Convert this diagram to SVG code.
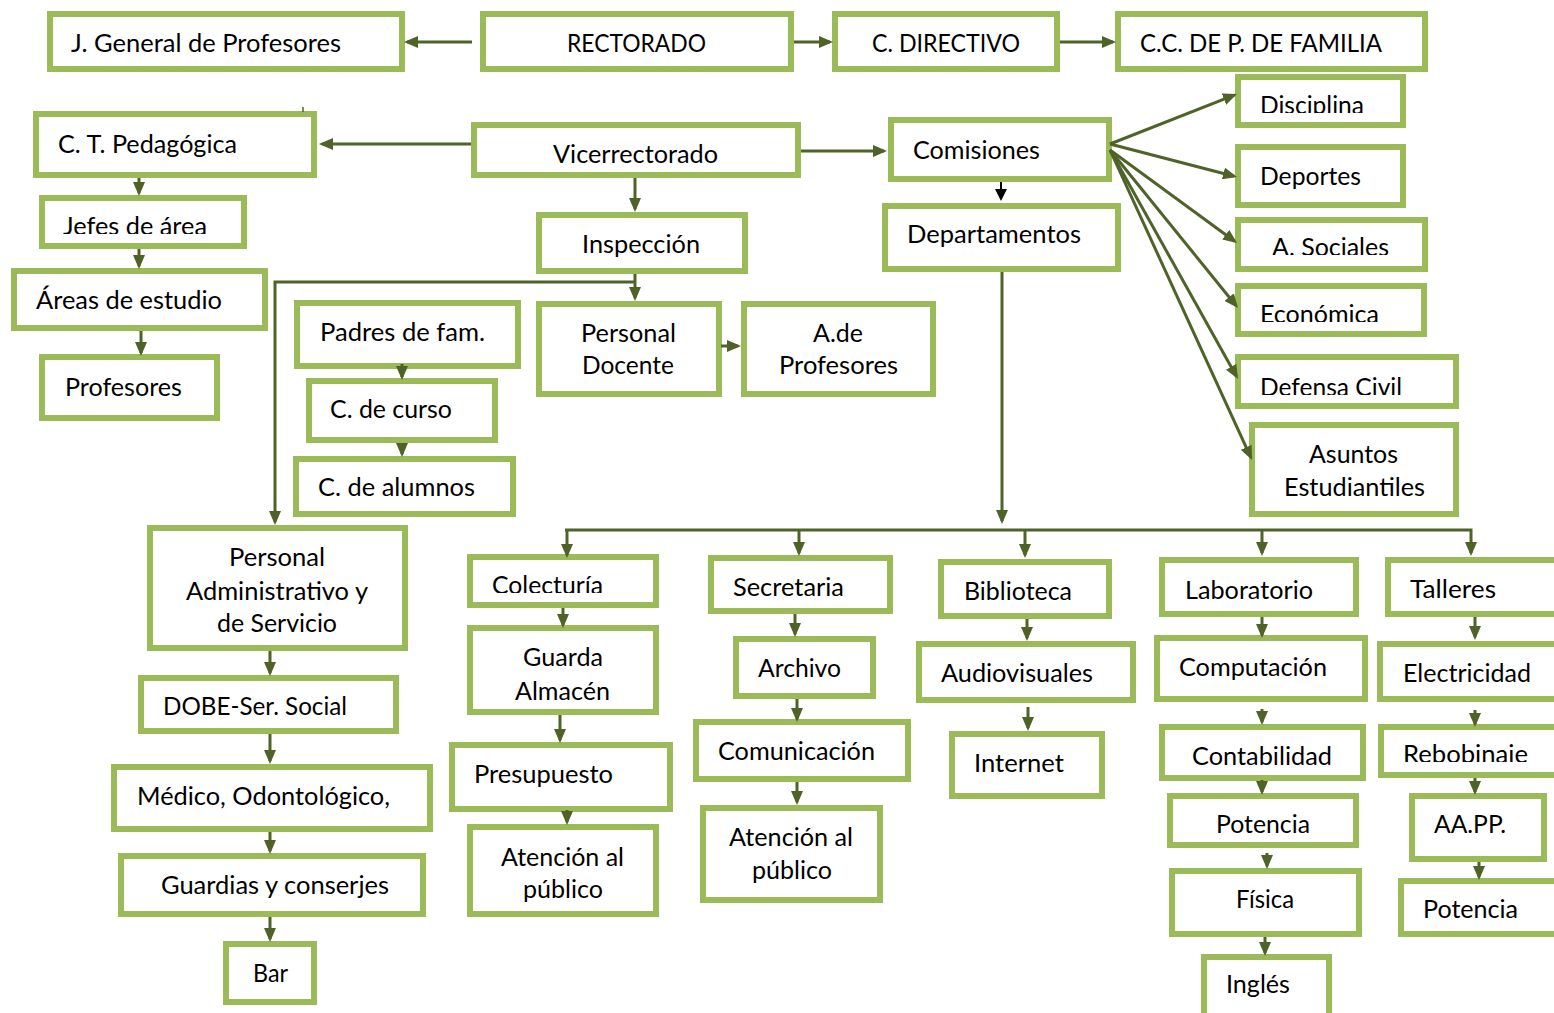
<svg xmlns="http://www.w3.org/2000/svg" width="1554" height="1013" viewBox="0 0 1554 1013">
<style>
rect.b{fill:#fff;stroke:#9BBB59;stroke-width:6}
text{font-family:Lato,"Open Sans","Liberation Sans",sans-serif;font-size:25px;fill:#000}
.c path{fill:none;stroke:#4F6228;stroke-width:3;marker-end:url(#ah)}
.c path.k{stroke:#000;stroke-width:2;marker-end:url(#ak)}
</style>
<defs>
<marker id="ah" viewBox="0 0 14 12" refX="11" refY="6" markerWidth="14" markerHeight="12" markerUnits="userSpaceOnUse" orient="auto"><path d="M0,0 L14,6 L0,12 z" fill="#4F6228"/></marker>
<marker id="ak" viewBox="0 0 12 12" refX="9" refY="6" markerWidth="12" markerHeight="12" markerUnits="userSpaceOnUse" orient="auto"><path d="M0,0 L12,6 L0,12 z" fill="#000"/></marker>
<clipPath id="cDisc"><rect x="1240" y="80" width="160" height="33"/></clipPath>
<clipPath id="cAsoc"><rect x="1240" y="222" width="180" height="33"/></clipPath>
<clipPath id="cEcon"><rect x="1240" y="288" width="180" height="34"/></clipPath>
<clipPath id="cDefc"><rect x="1240" y="359" width="210" height="36"/></clipPath>
<clipPath id="cJefes"><rect x="44" y="200" width="198" height="34"/></clipPath>
<clipPath id="cColec"><rect x="472" y="559" width="182" height="34"/></clipPath>
<clipPath id="cRebo"><rect x="1383" y="729" width="170" height="33"/></clipPath>
</defs>

<g id="jgen"><rect class="b" x="50" y="14" width="352" height="55"/><text x="71" y="52" textLength="270" lengthAdjust="spacingAndGlyphs">J. General de Profesores</text></g>
<g id="rectorado"><rect class="b" x="483" y="14" width="308" height="55"/><text x="567" y="52" textLength="139" lengthAdjust="spacingAndGlyphs">RECTORADO</text></g>
<g id="cdirectivo"><rect class="b" x="835" y="14" width="222" height="55"/><text x="872" y="52" textLength="148" lengthAdjust="spacingAndGlyphs">C. DIRECTIVO</text></g>
<g id="ccpfamilia"><rect class="b" x="1118" y="14" width="307" height="55"/><text x="1140" y="52" textLength="242" lengthAdjust="spacingAndGlyphs">C.C. DE P. DE FAMILIA</text></g>
<g id="ctpedagogica"><rect class="b" x="36" y="114" width="278" height="61"/><text x="58" y="153" textLength="179" lengthAdjust="spacingAndGlyphs">C. T. Pedagógica</text></g>
<g id="vicerrectorado"><rect class="b" x="474" y="125" width="324" height="50"/><text x="553" y="163" textLength="165" lengthAdjust="spacingAndGlyphs">Vicerrectorado</text></g>
<g id="comisiones"><rect class="b" x="891" y="120" width="218" height="59"/><text x="913" y="159" textLength="127" lengthAdjust="spacingAndGlyphs">Comisiones</text></g>
<g id="disciplina"><rect class="b" x="1238" y="77" width="165" height="48"/><text x="1260" y="114" textLength="104" lengthAdjust="spacingAndGlyphs" clip-path="url(#cDisc)">Disciplina</text></g>
<g id="deportes"><rect class="b" x="1238" y="147" width="165" height="58"/><text x="1260" y="185" textLength="101" lengthAdjust="spacingAndGlyphs">Deportes</text></g>
<g id="asociales"><rect class="b" x="1238" y="220" width="187" height="49"/><text x="1272" y="256" textLength="117" lengthAdjust="spacingAndGlyphs" clip-path="url(#cAsoc)">A. Sociales</text></g>
<g id="economica"><rect class="b" x="1238" y="286" width="186" height="48"/><text x="1260" y="323" textLength="119" lengthAdjust="spacingAndGlyphs" clip-path="url(#cEcon)">Económica</text></g>
<g id="defensacivil"><rect class="b" x="1238" y="357" width="218" height="49"/><text x="1260" y="396" textLength="142" lengthAdjust="spacingAndGlyphs" clip-path="url(#cDefc)">Defensa Civil</text></g>
<g id="asuntos"><rect class="b" x="1252" y="425" width="204" height="89"/><text x="1309" y="463" textLength="89" lengthAdjust="spacingAndGlyphs">Asuntos</text><text x="1284" y="496" textLength="141" lengthAdjust="spacingAndGlyphs">Estudiantiles</text></g>
<g id="departamentos"><rect class="b" x="885" y="206" width="233" height="63"/><text x="907" y="243" textLength="174" lengthAdjust="spacingAndGlyphs">Departamentos</text></g>
<g id="jefes"><rect class="b" x="42" y="198" width="202" height="48"/><text x="63" y="235" textLength="144" lengthAdjust="spacingAndGlyphs" clip-path="url(#cJefes)">Jefes de área</text></g>
<g id="areas"><rect class="b" x="14" y="271" width="251" height="57"/><text x="36" y="309" textLength="186" lengthAdjust="spacingAndGlyphs">Áreas de estudio</text></g>
<g id="profesores"><rect class="b" x="42" y="357" width="175" height="61"/><text x="65" y="396" textLength="117" lengthAdjust="spacingAndGlyphs">Profesores</text></g>
<g id="inspeccion"><rect class="b" x="539" y="215" width="206" height="56"/><text x="582" y="253" textLength="118" lengthAdjust="spacingAndGlyphs">Inspección</text></g>
<g id="personaldocente"><rect class="b" x="539" y="304" width="180" height="90"/><text x="581" y="342" textLength="95" lengthAdjust="spacingAndGlyphs">Personal</text><text x="582" y="374" textLength="92" lengthAdjust="spacingAndGlyphs">Docente</text></g>
<g id="adeprofesores"><rect class="b" x="744" y="304" width="189" height="90"/><text x="813" y="342" textLength="50" lengthAdjust="spacingAndGlyphs">A.de</text><text x="779" y="374" textLength="119" lengthAdjust="spacingAndGlyphs">Profesores</text></g>
<g id="padres"><rect class="b" x="297" y="303" width="221" height="63"/><text x="320" y="341" textLength="165" lengthAdjust="spacingAndGlyphs">Padres de fam.</text></g>
<g id="ccurso"><rect class="b" x="309" y="381" width="186" height="59"/><text x="330" y="418" textLength="122" lengthAdjust="spacingAndGlyphs">C. de curso</text></g>
<g id="calumnos"><rect class="b" x="296" y="459" width="217" height="55"/><text x="318" y="496" textLength="157" lengthAdjust="spacingAndGlyphs">C. de alumnos</text></g>
<g id="personaladmin"><rect class="b" x="150" y="528" width="255" height="120"/><text x="229" y="566" textLength="96" lengthAdjust="spacingAndGlyphs">Personal</text><text x="186" y="600" textLength="182" lengthAdjust="spacingAndGlyphs">Administrativo y</text><text x="217" y="632" textLength="120" lengthAdjust="spacingAndGlyphs">de Servicio</text></g>
<g id="dobe"><rect class="b" x="141" y="678" width="255" height="53"/><text x="163" y="715" textLength="184" lengthAdjust="spacingAndGlyphs">DOBE-Ser. Social</text></g>
<g id="medico"><rect class="b" x="114" y="767" width="316" height="62"/><text x="137" y="805" textLength="253" lengthAdjust="spacingAndGlyphs">Médico, Odontológico,</text></g>
<g id="guardias"><rect class="b" x="121" y="856" width="302" height="58"/><text x="161" y="894" textLength="228" lengthAdjust="spacingAndGlyphs">Guardias y conserjes</text></g>
<g id="bar"><rect class="b" x="226" y="944" width="88" height="58"/><text x="253" y="982" textLength="35" lengthAdjust="spacingAndGlyphs">Bar</text></g>
<g id="colecturia"><rect class="b" x="470" y="557" width="186" height="48"/><text x="492" y="594" textLength="111" lengthAdjust="spacingAndGlyphs" clip-path="url(#cColec)">Colecturía</text></g>
<g id="guardaalmacen"><rect class="b" x="470" y="628" width="186" height="84"/><text x="523" y="666" textLength="80" lengthAdjust="spacingAndGlyphs">Guarda</text><text x="515" y="700" textLength="95" lengthAdjust="spacingAndGlyphs">Almacén</text></g>
<g id="presupuesto"><rect class="b" x="452" y="745" width="218" height="64"/><text x="474" y="783" textLength="139" lengthAdjust="spacingAndGlyphs">Presupuesto</text></g>
<g id="atencion1"><rect class="b" x="470" y="827" width="186" height="87"/><text x="501" y="866" textLength="123" lengthAdjust="spacingAndGlyphs">Atención al</text><text x="523" y="898" textLength="80" lengthAdjust="spacingAndGlyphs">público</text></g>
<g id="secretaria"><rect class="b" x="711" y="558" width="179" height="53"/><text x="733" y="596" textLength="111" lengthAdjust="spacingAndGlyphs">Secretaria</text></g>
<g id="archivo"><rect class="b" x="736" y="639" width="137" height="57"/><text x="758" y="677" textLength="83" lengthAdjust="spacingAndGlyphs">Archivo</text></g>
<g id="comunicacion"><rect class="b" x="696" y="722" width="212" height="57"/><text x="718" y="760" textLength="157" lengthAdjust="spacingAndGlyphs">Comunicación</text></g>
<g id="atencion2"><rect class="b" x="703" y="808" width="177" height="92"/><text x="729" y="846" textLength="124" lengthAdjust="spacingAndGlyphs">Atención al</text><text x="752" y="879" textLength="80" lengthAdjust="spacingAndGlyphs">público</text></g>
<g id="biblioteca"><rect class="b" x="941" y="562" width="168" height="54"/><text x="964" y="600" textLength="108" lengthAdjust="spacingAndGlyphs">Biblioteca</text></g>
<g id="audiovisuales"><rect class="b" x="919" y="644" width="214" height="56"/><text x="941" y="682" textLength="152" lengthAdjust="spacingAndGlyphs">Audiovisuales</text></g>
<g id="internet"><rect class="b" x="952" y="734" width="150" height="62"/><text x="974" y="772" textLength="90" lengthAdjust="spacingAndGlyphs">Internet</text></g>
<g id="laboratorio"><rect class="b" x="1162" y="560" width="194" height="54"/><text x="1185" y="599" textLength="128" lengthAdjust="spacingAndGlyphs">Laboratorio</text></g>
<g id="computacion"><rect class="b" x="1157" y="638" width="208" height="61"/><text x="1179" y="676" textLength="148" lengthAdjust="spacingAndGlyphs">Computación</text></g>
<g id="contabilidad"><rect class="b" x="1162" y="727" width="201" height="51"/><text x="1192" y="765" textLength="140" lengthAdjust="spacingAndGlyphs">Contabilidad</text></g>
<g id="potencia1"><rect class="b" x="1170" y="796" width="186" height="49"/><text x="1216" y="833" textLength="94" lengthAdjust="spacingAndGlyphs">Potencia</text></g>
<g id="fisica"><rect class="b" x="1172" y="871" width="187" height="63"/><text x="1236" y="908" textLength="58" lengthAdjust="spacingAndGlyphs">Física</text></g>
<g id="ingles"><rect class="b" x="1204" y="957" width="125" height="70"/><text x="1226" y="993" textLength="64" lengthAdjust="spacingAndGlyphs">Inglés</text></g>
<g id="talleres"><rect class="b" x="1388" y="560" width="180" height="54"/><text x="1410" y="598" textLength="86" lengthAdjust="spacingAndGlyphs">Talleres</text></g>
<g id="electricidad"><rect class="b" x="1380" y="644" width="180" height="55"/><text x="1403" y="682" textLength="128" lengthAdjust="spacingAndGlyphs">Electricidad</text></g>
<g id="rebobinaje"><rect class="b" x="1381" y="727" width="180" height="48"/><text x="1403" y="763" textLength="125" lengthAdjust="spacingAndGlyphs" clip-path="url(#cRebo)">Rebobinaje</text></g>
<g id="aapp"><rect class="b" x="1412" y="796" width="132" height="63"/><text x="1434" y="833" textLength="72" lengthAdjust="spacingAndGlyphs">AA.PP.</text></g>
<g id="potencia2"><rect class="b" x="1401" y="881" width="170" height="53"/><text x="1423" y="918" textLength="95" lengthAdjust="spacingAndGlyphs">Potencia</text></g>

<g id="connectors" class="c">
<path d="M472,42 H407"/>
<path d="M794,42 H830"/>
<path d="M1060,42 H1113"/>
<path d="M471,144 H322"/>
<path d="M801,151 H884"/>
<path d="M635,178 V209"/>
<path class="k" d="M1001,182 V198"/>
<path d="M1110,144 L1234.2,95.1"/>
<path d="M1110,144 L1234.1,176.2"/>
<path d="M1110,150 L1234.6,241.2"/>
<path d="M1110,150 L1236.1,305.7"/>
<path d="M1110,150 L1236.5,376.4"/>
<path d="M1110,150 L1250.8,457.3"/>
<path d="M139,178 V193"/>
<path d="M139,249 V266"/>
<path d="M141,331 V353"/>
<path d="M635,274 V298"/>
<path d="M635,282 H275 V522"/>
<path d="M721,346 H738"/>
<path d="M402,364 V377"/>
<path d="M402,443 V454"/>
<path d="M270,651 V673"/>
<path d="M270,734 V761"/>
<path d="M270,832 V851"/>
<path d="M270,917 V939"/>
<path d="M1002,272 V521"/>
<path d="M565,530 H1471 V553"/>
<path d="M567,530 V555"/>
<path d="M799,530 V553"/>
<path d="M1025,530 V555"/>
<path d="M1262,530 V553"/>
<path d="M563,608 V625"/>
<path d="M560,715 V740"/>
<path d="M567,810 V822"/>
<path d="M795,614 V634"/>
<path d="M797,699 V719"/>
<path d="M797,782 V802"/>
<path d="M1027,619 V638"/>
<path d="M1028,707 V728"/>
<path d="M1262,617 V635"/>
<path d="M1262,709 V722"/>
<path d="M1262,780 V792"/>
<path d="M1267,853 V866"/>
<path d="M1265,937 V953"/>
<path d="M1475,617 V637"/>
<path d="M1475,710 V724"/>
<path d="M1475,778 V792"/>
<path d="M1479,862 V877"/>
<path style="marker-end:none;stroke-width:1.5" d="M303,107 V112"/>
</g>
</svg>
